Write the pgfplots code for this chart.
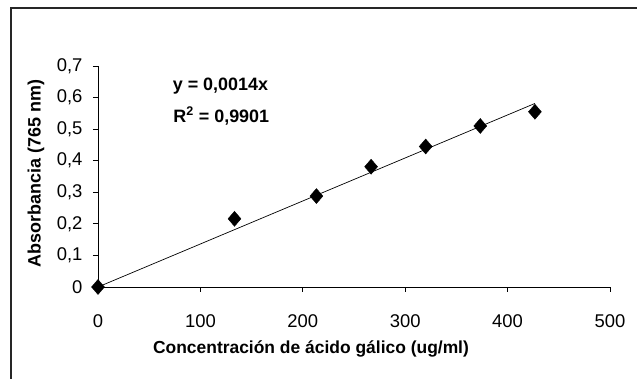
\documentclass[border=0pt]{standalone}
\usepackage{pgfplots}
\pgfplotsset{compat=1.18}
\usepackage{fontspec}
\setmainfont{Liberation Sans}
\begin{document}
\begin{tikzpicture}
\useasboundingbox (0,0) rectangle (637bp,379bp);
\draw[line width=1.6bp, black!85] (11bp,0) -- (11bp,371bp) -- (637bp,371bp);
\begin{axis}[
  at={(98bp,92bp)}, anchor=south west,
  scale only axis, width=512bp, height=221bp,
  xmin=0, xmax=500, ymin=0, ymax=0.7,
  axis x line=bottom, axis y line=left,
  axis line style={-, line width=0.8bp},
  xtick={0,100,200,300,400,500},
  ytick={0,0.1,0.2,0.3,0.4,0.5,0.6,0.7},
  tick align=outside, major tick length=5bp,
  tick style={black, line width=0.8bp},
  /pgf/number format/use comma,
  /pgf/number format/assume math mode=true,
  ticklabel style={font=\fontsize{18.5}{21}\selectfont},
  yticklabel style={xshift=-7bp},
  xticklabel style={yshift=-19bp},
  xlabel={Concentración de ácido gálico (ug/ml)},
  ylabel={Absorbancia (765 nm)},
  xlabel style={at={(axis description cs:0.416,-0.281)}, anchor=center, font=\bfseries\fontsize{17.5}{20}\selectfont},
  ylabel style={at={(axis description cs:-0.121,0.514)}, anchor=center, rotate=0, font=\bfseries\fontsize{18}{20}\selectfont},
  clip=false,
]
\addplot[black, line width=0.7bp, no marks] coordinates {(0,0) (426.7,0.5814)};
\addplot[only marks, mark=diamond*, mark size=7.5bp, mark options={xscale=1.15}, black] coordinates {
(0,0) (133.3,0.216) (213.3,0.288) (266.7,0.381) (320,0.445) (373.3,0.510) (426.7,0.555)};
\node[anchor=base west, inner sep=0, font=\bfseries\fontsize{18}{20}\selectfont] at (axis cs:72.9,0.6217) {y = 0,0014x};
\node[anchor=base west, inner sep=0, font=\bfseries\fontsize{18}{20}\selectfont] at (axis cs:73.5,0.5219) {R\textsuperscript{2} = 0,9901};
\end{axis}
\end{tikzpicture}
\end{document}
